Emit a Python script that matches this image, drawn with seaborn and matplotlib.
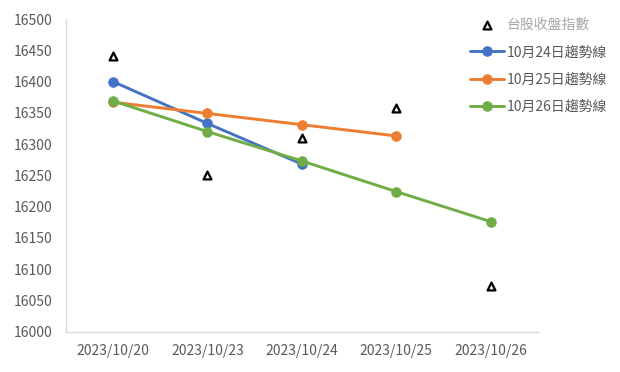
import matplotlib
matplotlib.use("Agg")
import matplotlib.pyplot as plt
import seaborn as sns

dates = ["2023/10/20", "2023/10/23", "2023/10/24", "2023/10/25", "2023/10/26"]
close_idx = [16441, 16251, 16310, 16358, 16073]
trend_1024 = [16400, 16333, 16268]
trend_1025 = [16367, 16349, 16331, 16313]
trend_1026 = [16369, 16320, 16273, 16224, 16176]

labels = ["台股收盤指數", "10月24日趨勢線", "10月25日趨勢線", "10月26日趨勢線"]
colors = ["#4472C4", "#ED7D31", "#70AD47"]

sns.set_theme(style="white")
plt.rcParams['font.family'] = ['Noto Sans CJK TC', 'DejaVu Sans']

fig = plt.figure(figsize=(6.2, 3.72), dpi=100)
ax = fig.add_axes([65.7 / 620, 40.3 / 372, 472.3 / 620, 312.7 / 372])

sns.scatterplot(x=dates, y=close_idx, marker="^", s=32, facecolor="white",
                edgecolor="black", linewidth=1.6, ax=ax, label=labels[0], zorder=5)
for vals, col, lab in zip([trend_1024, trend_1025, trend_1026], colors, labels[1:]):
    sns.lineplot(x=dates[:len(vals)], y=vals, color=col, marker="o", markersize=6.8,
                 markeredgecolor=col, linewidth=2.1, ax=ax, label=lab, sort=False)

ax.set_xlim(-0.5, 4.5)
ax.set_ylim(16000, 16500)
ax.set_yticks(range(16000, 16501, 50))
ax.set_xlabel("")
ax.set_ylabel("")
for s in ["top", "right"]:
    ax.spines[s].set_visible(False)
for s in ["left", "bottom"]:
    ax.spines[s].set_color("#d9d9d9")
    ax.spines[s].set_linewidth(1.0)
ax.tick_params(axis="y", length=0, pad=9.5, labelsize=10, labelcolor="#595959")
ax.tick_params(axis="x", length=0, pad=9, labelsize=10, labelcolor="#595959")

handles, labs = ax.get_legend_handles_labels()
leg = ax.legend(handles, labs, loc="upper left", bbox_to_anchor=(470 / 620, 1 - 18 / 372),
                bbox_transform=fig.transFigure,
                frameon=False, fontsize=10, handlelength=2.45, handletextpad=0.2,
                labelspacing=0.96, borderaxespad=0, borderpad=0)
for t in leg.get_texts():
    t.set_color("#595959")
leg.get_texts()[0].set_color("#a6a6a6")

fig.savefig("out.png", dpi=100)
